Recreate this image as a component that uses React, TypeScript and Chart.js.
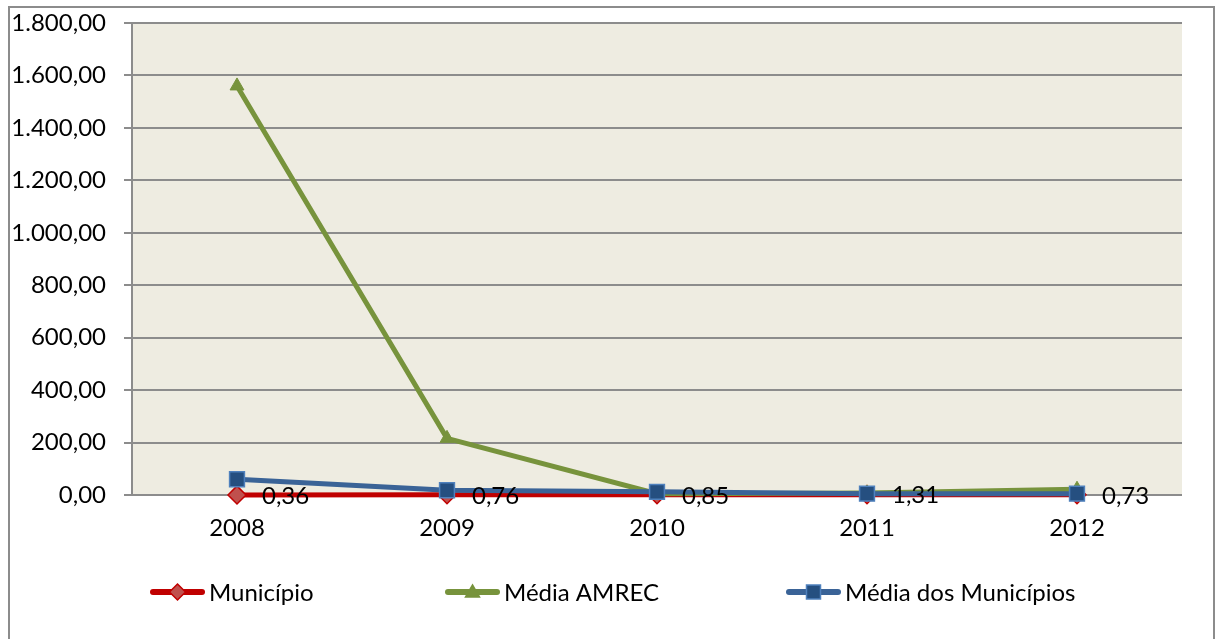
import React, { useEffect, useRef } from "react";
import { Chart, registerables } from "chart.js";

Chart.register(...registerables);

const years = ["2008", "2009", "2010", "2011", "2012"];
const municipio = [0.36, 0.76, 0.85, 1.31, 0.73];
const mediaAmrec = [1560, 216, 5, 8, 22];
const mediaMunicipios = [60, 18, 12, 5, 5];
const yTickMax = 1800;
const yTickStep = 200;

const FONT = "Lato, 'Open Sans', sans-serif";
const FONT_SIZE = 24;
const RED = "#C00000";
const RED_FILL = "#C0504D";
const GREEN = "#77933C";
const BLUE = "#3A6397";
const BLUE_FILL = "#254F80";
const BLUE_EDGE = "#4F81BD";

// Brazilian number format: 1.800,00
function fmtBR(v: number): string {
  const [intPart, dec] = Math.abs(v).toFixed(2).split(".");
  const withDots = intPart.replace(/\B(?=(\d{3})+(?!\d))/g, ".");
  return (v < 0 ? "-" : "") + withDots + "," + dec;
}

const plotBackground = {
  id: "plotBackground",
  beforeDraw(chart: any) {
    const { ctx, chartArea } = chart;
    ctx.save();
    ctx.fillStyle = "#EEECE1";
    ctx.fillRect(chartArea.left, chartArea.top, chartArea.right - chartArea.left, chartArea.bottom - chartArea.top);
    ctx.restore();
  },
};

const valueLabels = {
  id: "valueLabels",
  afterDatasetsDraw(chart: any) {
    const { ctx } = chart;
    const meta = chart.getDatasetMeta(0);
    const data = chart.data.datasets[0].data as number[];
    ctx.save();
    ctx.font = `${FONT_SIZE}px ${FONT}`;
    ctx.fillStyle = "#000";
    ctx.textAlign = "left";
    ctx.textBaseline = "middle";
    meta.data.forEach((pt: any, i: number) => {
      ctx.fillText(fmtBR(data[i]), pt.x + 25, pt.y + 1);
    });
    ctx.restore();
  },
};

const legendItems = [
  { label: "Município", color: RED, fill: RED_FILL, edge: RED, marker: "diamond", x: 150 },
  { label: "Média AMREC", color: GREEN, fill: GREEN, edge: GREEN, marker: "triangle", x: 445 },
  { label: "Média dos Municípios", color: BLUE, fill: BLUE_FILL, edge: BLUE_EDGE, marker: "square", x: 786 },
];

const bottomLegend = {
  id: "bottomLegend",
  afterDraw(chart: any) {
    const { ctx } = chart;
    const y = 592;
    ctx.save();
    legendItems.forEach((it) => {
      const x0 = it.x;
      const x1 = it.x + 55;
      const cx = (x0 + x1) / 2;
      ctx.strokeStyle = it.color;
      ctx.lineWidth = 6;
      ctx.lineCap = "round";
      ctx.beginPath();
      ctx.moveTo(x0 + 3, y);
      ctx.lineTo(x1 - 3, y);
      ctx.stroke();
      ctx.fillStyle = it.fill;
      ctx.strokeStyle = it.edge;
      ctx.lineWidth = 1.5;
      ctx.beginPath();
      if (it.marker === "diamond") {
        ctx.moveTo(cx, y - 8);
        ctx.lineTo(cx + 8, y);
        ctx.lineTo(cx, y + 8);
        ctx.lineTo(cx - 8, y);
        ctx.closePath();
      } else if (it.marker === "triangle") {
        ctx.moveTo(cx, y - 7);
        ctx.lineTo(cx + 7, y + 5);
        ctx.lineTo(cx - 7, y + 5);
        ctx.closePath();
      } else {
        ctx.rect(cx - 7, y - 7, 14, 14);
      }
      ctx.fill();
      ctx.stroke();
      ctx.fillStyle = "#000";
      ctx.font = `${FONT_SIZE}px ${FONT}`;
      ctx.textAlign = "left";
      ctx.textBaseline = "middle";
      ctx.fillText(it.label, x1 + 4, y + 1);
    });
    ctx.restore();
  },
};

export default function App() {
  const canvasRef = useRef<HTMLCanvasElement | null>(null);

  useEffect(() => {
    if (!canvasRef.current) return;
    const chart = new Chart(canvasRef.current, {
      type: "line",
      data: {
        labels: years,
        datasets: [
          {
            label: "Município",
            data: municipio,
            borderColor: RED,
            backgroundColor: RED_FILL,
            borderWidth: 5,
            pointStyle: "rectRot",
            pointRadius: 9,
            pointBorderColor: RED,
            pointBackgroundColor: RED_FILL,
            pointBorderWidth: 1.5,
            tension: 0,
            order: 2,
            clip: false,
          },
          {
            label: "Média AMREC",
            data: mediaAmrec,
            borderColor: GREEN,
            backgroundColor: GREEN,
            borderWidth: 5,
            pointStyle: "triangle",
            pointRadius: 8,
            pointBorderColor: GREEN,
            pointBackgroundColor: GREEN,
            pointBorderWidth: 1,
            tension: 0,
            order: 1,
            clip: false,
          },
          {
            label: "Média dos Municípios",
            data: mediaMunicipios,
            borderColor: BLUE,
            backgroundColor: BLUE_FILL,
            borderWidth: 5,
            pointStyle: "rect",
            pointRadius: 10.5,
            pointBorderColor: BLUE_EDGE,
            pointBackgroundColor: BLUE_FILL,
            pointBorderWidth: 1.5,
            tension: 0,
            order: 0,
            clip: false,
          },
        ],
      },
      options: {
        responsive: false,
        animation: false,
        devicePixelRatio: 1,
        layout: { padding: { left: 0, top: 23, right: 37, bottom: 94 } },
        plugins: {
          legend: { display: false },
          tooltip: { enabled: false },
        },
        scales: {
          x: {
            offset: true,
            grid: { display: false },
            border: { display: false },
            ticks: {
              color: "#000",
              font: { family: FONT, size: FONT_SIZE },
              padding: 11,
              maxRotation: 0,
            },
            afterFit(scale: any) {
              scale.height = 50;
              scale.paddingLeft = 0;
              scale.paddingRight = 0;
            },
          },
          y: {
            min: 0,
            max: yTickMax,
            ticks: {
              stepSize: yTickStep,
              color: "#000",
              font: { family: FONT, size: FONT_SIZE },
              padding: 18,
              callback: (v: any) => fmtBR(Number(v)),
            },
            grid: {
              color: "#8C8C8C",
              lineWidth: 2,
              tickLength: 8,
              drawTicks: true,
            },
            border: { display: true, color: "#8C8C8C", width: 2 },
            afterFit(scale: any) {
              scale.width = 132;
              scale.paddingTop = 0;
              scale.paddingBottom = 0;
            },
          },
        },
      },
      plugins: [plotBackground, valueLabels, bottomLegend],
    });
    return () => chart.destroy();
  }, []);

  return (
    <div style={{ position: "absolute", left: 0, top: 0, width: 1219, height: 639, overflow: "hidden", background: "#fff" }}>
      <div
        style={{
          position: "absolute",
          left: 8,
          top: 6,
          width: 1207,
          height: 660,
          border: "2px solid #8C8C8C",
          boxSizing: "border-box",
        }}
      />
      <canvas ref={canvasRef} width={1219} height={639} style={{ position: "absolute", left: 0, top: 0 }} />
    </div>
  );
}
